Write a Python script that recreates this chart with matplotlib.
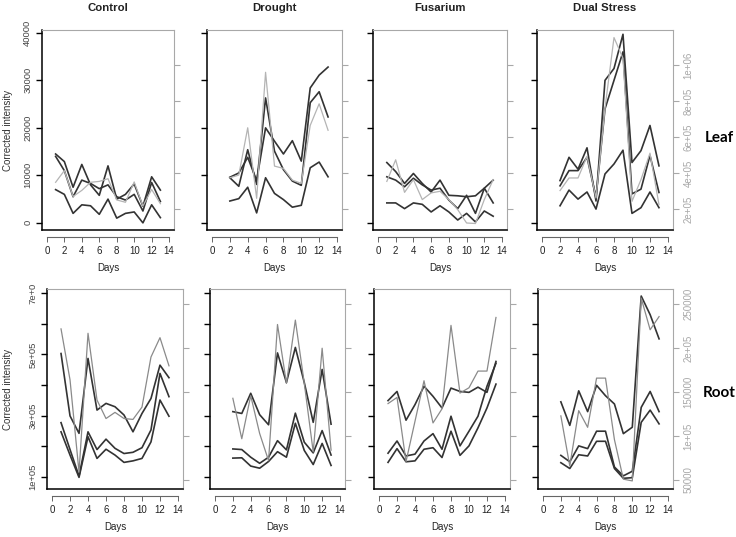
import matplotlib
matplotlib.use('Agg')
import matplotlib.pyplot as plt

plt.rcParams['font.family'] = ['Liberation Sans', 'DejaVu Sans']

treatments = ['Control', 'Drought', 'Fusarium', 'Dual Stress']
days_all = list(range(1, 14))
days_late = list(range(2, 14))

# ---- leaf: dark lines on left axis, grey line on right (grey) axis
leaf_control_dark = [
    [14500, 12900, 7500, 12300, 8000, 5800, 12000, 5000, 6000, 8200, 3500, 9700, 6900],
    [14000, 11000, 5500, 9000, 8300, 7200, 8000, 5500, 4800, 6000, 2500, 8500, 4500],
    [7000, 6000, 2000, 3800, 3600, 1800, 5000, 1000, 2000, 2300, 0, 3800, 1100],
]
leaf_control_gray = [348000, 413000, 269000, 303000, 348000, 353000, 368000,
                     250000, 237000, 350000, 216000, 308000, 229000]

leaf_drought_dark = [
    [9600, 10500, 13800, 8900, 20000, 17200, 14500, 17300, 13000, 28400, 31100, 32800],
    [9500, 7700, 15400, 8100, 26300, 15100, 11200, 8800, 7900, 25300, 27600, 22300],
    [4600, 5100, 7500, 2100, 9500, 6200, 4900, 3300, 3700, 11600, 12800, 9700],
]
leaf_drought_gray = [373000, 388000, 651000, 259000, 959000, 438000, 425000,
                     360000, 342000, 664000, 784000, 637000]

leaf_fusarium_dark = [
    [12700, 10800, 8300, 10400, 8300, 6500, 9000, 5800, 5700, 5500, 5700, 7300, 9000],
    [9700, 9000, 7600, 9400, 8000, 6900, 7300, 4800, 3000, 5800, 2000, 7300, 4200],
    [4200, 4200, 3000, 4200, 3900, 2300, 3600, 2300, 600, 2000, 200, 2500, 1400],
]
leaf_fusarium_gray = [353000, 473000, 292000, 363000, 252000, 289000, 298000,
                      252000, 196000, 122000, 119000, 252000, 363000]

leaf_dual_dark = [
    [8900, 13800, 11300, 15800, 4600, 30000, 32500, 39700, 12700, 15200, 20500, 12000],
    [7800, 11000, 11000, 13800, 5400, 24000, 30000, 36000, 6100, 7100, 14200, 6400],
    [3600, 6900, 5000, 6500, 2900, 10300, 12400, 15300, 2000, 3200, 6500, 3200],
]
leaf_dual_gray = [302000, 372000, 372000, 492000, 261000, 760000, 1152000,
                  1037000, 242000, 363000, 510000, 224000]

# ---- root
root_control_dark = [
    [503000, 299000, 242000, 487000, 318000, 340000, 329000, 302000, 247000, 307000, 356000, 465000, 424000],
    [277000, 189000, 102000, 247000, 189000, 223000, 193000, 176000, 180000, 195000, 253000, 438000, 362000],
    [247000, 171000, 98000, 231000, 160000, 190000, 171000, 147000, 152000, 160000, 214000, 351000, 298000],
]
root_control_gray = [222000, 164000, 59000, 217000, 141000, 120000, 127000,
                     120000, 119000, 133000, 190000, 212000, 180000]

root_drought_dark = [
    [313000, 307000, 373000, 303000, 270000, 505000, 408000, 523000, 408000, 278000, 451000, 272000],
    [191000, 189000, 164000, 144000, 164000, 218000, 188000, 308000, 213000, 178000, 251000, 171000],
    [161000, 162000, 135000, 128000, 150000, 182000, 164000, 275000, 186000, 140000, 209000, 137000],
]
root_drought_gray = [143000, 97000, 146000, 103000, 72000, 227000, 160000,
                     232000, 160000, 82000, 200000, 84000]

root_fusarium_dark = [
    [349000, 379000, 285000, 336000, 396000, 363000, 325000, 390000, 379000, 376000, 393000, 376000, 477000],
    [177000, 217000, 168000, 174000, 217000, 241000, 190000, 298000, 201000, 249000, 298000, 396000, 471000],
    [147000, 192000, 149000, 152000, 190000, 195000, 163000, 249000, 170000, 201000, 260000, 325000, 403000],
]
root_fusarium_gray = [137000, 144000, 71000, 117000, 163000, 115000, 131000,
                      226000, 149000, 155000, 174000, 174000, 235000]

root_dual_dark = [
    [345000, 268000, 381000, 313000, 399000, 365000, 338000, 241000, 262000, 691000, 630000, 551000],
    [170000, 149000, 201000, 192000, 249000, 249000, 132000, 103000, 118000, 327000, 379000, 313000],
    [146000, 127000, 172000, 168000, 216000, 216000, 127000, 95000, 97000, 278000, 318000, 273000],
]
root_dual_gray = [123000, 66000, 129000, 110000, 166000, 166000, 96000,
                  51000, 49000, 257000, 221000, 236000]

leaf_ticks = [0, 10000, 20000, 30000, 40000]
leaf_ticklabels = ['0', '10000', '20000', '30000', '40000']
leaf_right_ticks = [200000, 400000, 600000, 800000, 1000000]
leaf_right_labels = ['2e+05', '4e+05', '6e+05', '8e+05', '1e+06']
root_ticks = [100000, 200000, 300000, 400000, 500000, 600000, 700000]
root_ticklabels = ['1e+05', '', '3e+05', '', '5e+05', '', '7e+0']
root_right_ticks = [50000, 100000, 150000, 200000, 250000]
root_right_labels = ['50000', '1e+05', '150000', '2e+05', '250000']
day_ticks = list(range(0, 15, 2))

rows = [
    dict(name='Leaf', days=[days_all, days_late, days_all, days_late],
         dark=[leaf_control_dark, leaf_drought_dark, leaf_fusarium_dark, leaf_dual_dark],
         gray=[leaf_control_gray, leaf_drought_gray, leaf_fusarium_gray, leaf_dual_gray],
         ylim=(-1500, 40600), ylim2=(83000, 1194000),
         yt=leaf_ticks, ytl=leaf_ticklabels, yt2=leaf_right_ticks, ytl2=leaf_right_labels,
         boxes=[(42, 174), (207, 342), (373, 507), (537, 673)], top=30, bottom=230,
         gray_col='#b4b4b4'),
    dict(name='Root', days=[days_all, days_late, days_all, days_late],
         dark=[root_control_dark, root_drought_dark, root_fusarium_dark, root_dual_dark],
         gray=[root_control_gray, root_drought_gray, root_fusarium_gray, root_dual_gray],
         ylim=(60000, 714000), ylim2=(39800, 267400),
         yt=root_ticks, ytl=root_ticklabels, yt2=root_right_ticks, ytl2=root_right_labels,
         boxes=[(47, 183), (210, 345), (374, 510), (538, 673)], top=289, bottom=489,
         gray_col='#8a8a8a'),
]

W, H = 736, 537
fig = plt.figure(figsize=(W / 100, H / 100), dpi=100)

dark = '#333333'
axis_gray = '#a8a8a8'

for r, row in enumerate(rows):
    for c in range(4):
        x0, x1 = row['boxes'][c]
        y0, y1 = row['top'], row['bottom']
        ax = fig.add_axes([x0 / W, 1 - y1 / H, (x1 - x0) / W, (y1 - y0) / H])
        ax2 = ax.twinx()
        for series in row['dark'][c]:
            ax.plot(row['days'][c], series, color=dark, lw=1.2)
        ax2.plot(row['days'][c], row['gray'][c], color=row['gray_col'], lw=0.9)

        ax.set_xlim(-0.56, 14.56)
        ax.set_ylim(*row['ylim'])
        ax2.set_ylim(*row['ylim2'])

        # detached x axis like base R
        ax.spines['top'].set_visible(False)
        ax.spines['right'].set_visible(False)
        ax.spines['left'].set_color('black')
        ax.spines['left'].set_linewidth(1.1)
        ax.spines['bottom'].set_position(('outward', 5))
        ax.spines['bottom'].set_bounds(0, 14)
        ax.spines['bottom'].set_color('#666666')
        ax.spines['bottom'].set_linewidth(0.8)
        ax.set_xticks(day_ticks)
        ax.tick_params(axis='x', length=3.5, width=0.7, color='#666666',
                       labelsize=7, pad=3, labelcolor='#222222')

        ax.set_yticks(row['yt'])
        ax.set_yticklabels(row['ytl'] if c == 0 else [''] * len(row['yt']))
        ax.tick_params(axis='y', length=4, width=1.0, color='black',
                       labelsize=6.8, pad=3, labelrotation=90, labelcolor='#444444')
        for lbl in ax.get_yticklabels():
            lbl.set_va('center')

        ax2.spines['left'].set_visible(False)
        ax2.spines['bottom'].set_color('black')
        ax2.spines['bottom'].set_linewidth(1.1)
        ax2.spines['top'].set_color(axis_gray)
        ax2.spines['right'].set_color(axis_gray)
        ax2.set_yticks(row['yt2'])
        ax2.set_yticklabels(row['ytl2'] if c == 3 else [''] * len(row['yt2']))
        ax2.tick_params(axis='y', length=4.5, width=0.8, color=axis_gray,
                        labelsize=7, pad=3, labelrotation=90, labelcolor=axis_gray)
        for lbl in ax2.get_yticklabels():
            lbl.set_va('center')

        cx = (x0 + x1) / 2 / W
        fig.text(cx, 1 - (y1 + 38) / H, 'Days', ha='center', va='center',
                 fontsize=7, color='#222222')
        if r == 0:
            fig.text(cx, 1 - 8 / H, treatments[c], ha='center', va='center',
                     fontsize=8.2, fontweight='bold', color='#222222')

    fig.text(8 / W, 1 - (row['top'] + row['bottom']) / 2 / H, 'Corrected intensity',
             rotation=90, ha='center', va='center', fontsize=7, color='#333333')
    fig.text(719 / W, 1 - (138 if r == 0 else 393) / H, row['name'],
             ha='center', va='center', fontsize=11, fontweight='bold',
             family=['Lato', 'DejaVu Sans'], color='black')

fig.savefig('out.png', dpi=100)
